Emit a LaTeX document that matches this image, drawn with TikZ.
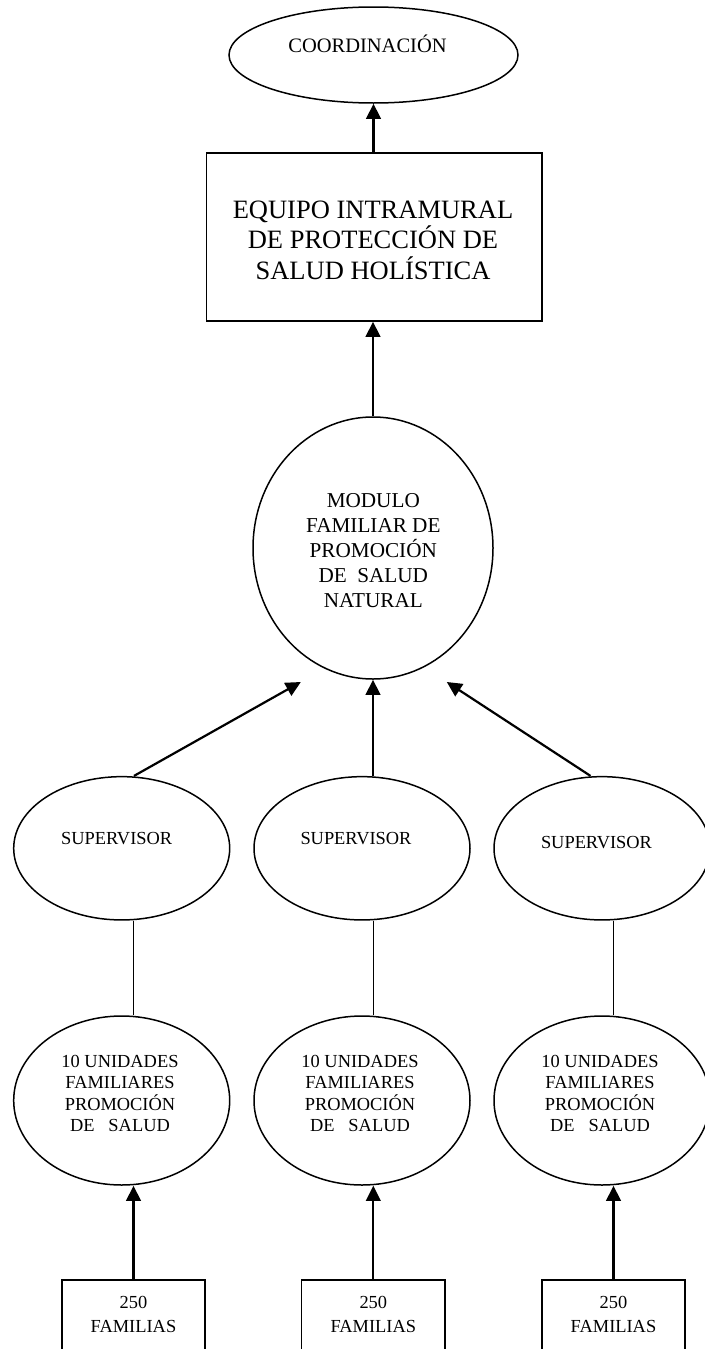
\documentclass[tikz,border=0pt]{standalone}
\usepackage{fontspec}
\setmainfont{Liberation Serif}
\usetikzlibrary{shapes.geometric,arrows.meta}
\begin{document}
\begin{tikzpicture}[x=1pt,y=-1pt,
  shp/.style={draw=black, line width=1.5pt, inner sep=0pt},
  ell/.style={shp, ellipse},
  box/.style={shp, rectangle},
  lbl/.style={inner sep=0pt, align=center, text=black},
  arr/.style={line width=2.2pt, -{Triangle[length=15pt,width=14.5pt]}},
  ln/.style={line width=1.5pt},
  supell/.style={ell, minimum width=216pt, minimum height=143.3pt},
  uniell/.style={ell, minimum width=216pt, minimum height=169pt},
  fambox/.style={box, minimum width=143.3pt, minimum height=80pt},
  smalltxt/.style={lbl, font=\fontsize{18.4}{21.5}\selectfont},
  famtxt/.style={lbl, font=\fontsize{18.4}{24}\selectfont}]
\useasboundingbox (0,0) rectangle (704,1349);
% top
\node[ell, minimum width=289pt, minimum height=96pt] (coord) at (373.5,55) {};
\node[lbl, anchor=base, font=\fontsize{20.5}{24}\selectfont] (coordT) at (367.5,52) {COORDINACIÓN};
\node[box, minimum width=335.5pt, minimum height=168pt] (equipo) at (374.25,237) {};
\node[lbl, anchor=north, font=\fontsize{26.5}{30.5}\selectfont] (equipoT) at (373,200.5) {EQUIPO INTRAMURAL\\DE PROTECCIÓN DE\\SALUD HOLÍSTICA};
\node[ell, minimum width=240pt, minimum height=262pt] (mod) at (373,548) {};
\node[lbl, anchor=north, font=\fontsize{21.2}{25}\selectfont] (modT) at (373.3,493.3) {MODULO\\FAMILIAR DE\\PROMOCIÓN\\DE\ \ SALUD\\NATURAL};
% supervisors
\node[supell] (sup1) at (121.7,848.3) {};
\node[supell] (sup2) at (362,848.3) {};
\node[supell] (sup3) at (602,848.3) {};
\node[smalltxt, anchor=base] (sup1T) at (116.7,844) {SUPERVISOR};
\node[smalltxt, anchor=base] (sup2T) at (356,844) {SUPERVISOR};
\node[smalltxt, anchor=base] (sup3T) at (596.5,848) {SUPERVISOR};
% unidades
\node[uniell] (uni1) at (121.7,1100.5) {};
\node[uniell] (uni2) at (362,1100.5) {};
\node[uniell] (uni3) at (602,1100.5) {};
\node[smalltxt, anchor=north] (uni1T) at (120,1054.7) {10 UNIDADES\\FAMILIARES\\PROMOCIÓN\\DE\ \ \ SALUD};
\node[smalltxt, anchor=north] (uni2T) at (360,1054.7) {10 UNIDADES\\FAMILIARES\\PROMOCIÓN\\DE\ \ \ SALUD};
\node[smalltxt, anchor=north] (uni3T) at (600,1054.7) {10 UNIDADES\\FAMILIARES\\PROMOCIÓN\\DE\ \ \ SALUD};
% families
\node[fambox] (fam1) at (133.5,1320) {};
\node[fambox] (fam2) at (373.3,1320) {};
\node[fambox] (fam3) at (613.5,1320) {};
\node[famtxt, anchor=north] (fam1T) at (133.5,1295.6) {250\\FAMILIAS};
\node[famtxt, anchor=north] (fam2T) at (373.3,1295.6) {250\\FAMILIAS};
\node[famtxt, anchor=north] (fam3T) at (613.5,1295.6) {250\\FAMILIAS};
% connectors
\coordinate (tipL) at (300.8,682);
\coordinate (tipR) at (446.8,682);
\draw[arr] (equipo.north -| coord.south) -- (coord.south);
\draw[arr] (mod.north) -- (mod.north |- equipo.south);
\draw[arr] ([xshift=12.3pt]sup1.north) -- (tipL);
\draw[arr] (sup2.north -| mod.south) -- (mod.south);
\draw[arr] ([xshift=-11.5pt]sup3.north) -- (tipR);
\draw[ln] (sup1.south -| fam1.north) -- (uni1.north -| fam1.north);
\draw[ln] (sup2.south -| fam2.north) -- (uni2.north -| fam2.north);
\draw[ln] (sup3.south -| fam3.north) -- (uni3.north -| fam3.north);
\draw[arr] (fam1.north) -- (fam1.north |- uni1.south);
\draw[arr] (fam2.north) -- (fam2.north |- uni2.south);
\draw[arr] (fam3.north) -- (fam3.north |- uni3.south);
\end{tikzpicture}
\end{document}
